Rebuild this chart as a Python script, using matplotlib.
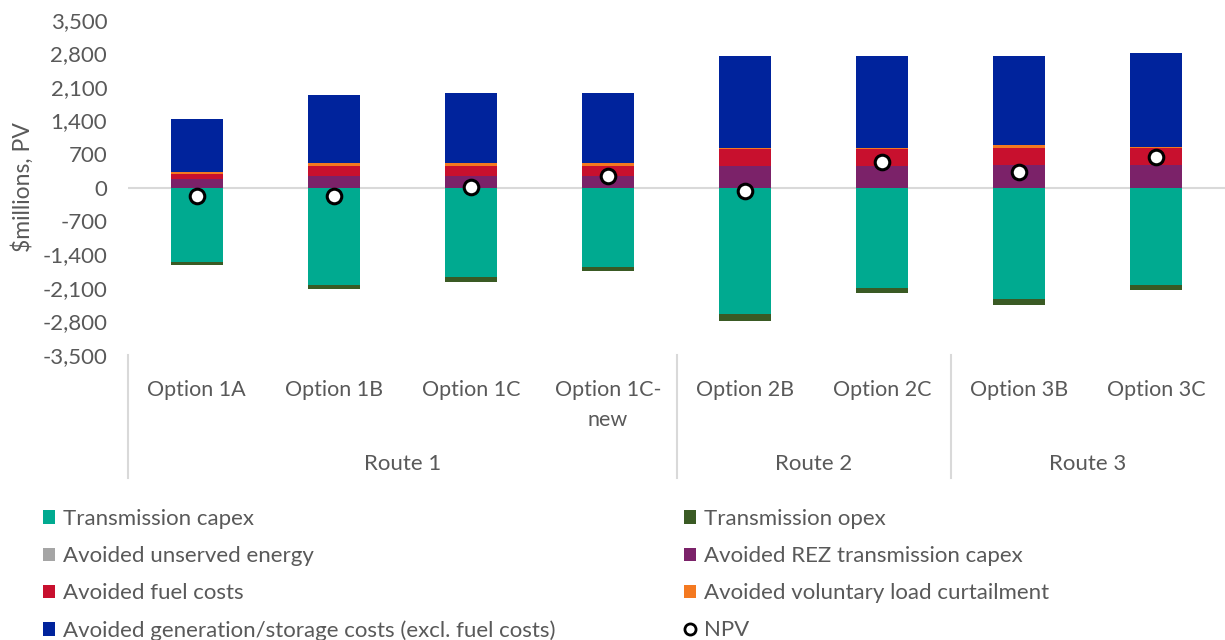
import matplotlib.pyplot as plt
import matplotlib.transforms as mtransforms
from matplotlib.patches import Patch
from matplotlib.lines import Line2D
from matplotlib.ticker import FuncFormatter, MultipleLocator

plt.rcParams['font.family'] = ['Lato', 'DejaVu Sans']

# data, $millions PV
options = ["Option 1A", "Option 1B", "Option 1C", "Option 1C-\nnew",
           "Option 2B", "Option 2C", "Option 3B", "Option 3C"]
routes = ["Route 1", "Route 2", "Route 3"]
route_sizes = [4, 2, 2]

capex = [-1550, -2030, -1875, -1660, -2650, -2090, -2330, -2035]
opex = [-60, -95, -90, -90, -140, -110, -115, -110]
unserved = [0, 0, 0, 0, 0, 0, 0, 0]
rez = [180, 235, 235, 235, 444, 444, 479, 479]
fuel = [105, 215, 215, 215, 360, 360, 347, 347]
voluntary = [35, 55, 55, 55, 20, 20, 55, 30]
generation = [1120, 1437, 1480, 1480, 1930, 1930, 1875, 1950]
npv = [-175, -175, 20, 235, -70, 533, 319, 637]

grey_txt = '#595959'
colors = {
    'capex': '#00AA90',
    'opex': '#3A5A24',
    'unserved': '#A5A5A5',
    'rez': '#7B2269',
    'fuel': '#C8102E',
    'voluntary': '#F47920',
    'generation': '#00239C',
}

fig = plt.figure(figsize=(12.25, 6.4), dpi=100)
ax = fig.add_axes([128 / 1225, 1 - 355 / 640, 1 - 128 / 1225, 335 / 640])

x = list(range(len(options)))
w = 0.38

# negative side
ax.bar(x, capex, w, color=colors['capex'], zorder=2)
ax.bar(x, opex, w, bottom=capex, color=colors['opex'], zorder=2)

# positive side
bottom = [0] * len(x)
for key, vals in [('rez', rez), ('unserved', unserved), ('fuel', fuel),
                  ('voluntary', voluntary), ('generation', generation)]:
    ax.bar(x, vals, w, bottom=bottom, color=colors[key], zorder=2)
    bottom = [b + v for b, v in zip(bottom, vals)]

ax.scatter(x, npv, s=110, facecolor='white', edgecolor='black',
           linewidth=2.2, zorder=4)

ax.axhline(0, color='#D9D9D9', linewidth=1.5, zorder=1)

ax.set_xlim(-0.5, len(options) - 0.5)
ax.set_ylim(-3500, 3500)
ax.yaxis.set_major_locator(MultipleLocator(700))
ax.yaxis.set_major_formatter(FuncFormatter(lambda v, p: '{:,.0f}'.format(v)))
for s in ax.spines.values():
    s.set_visible(False)
ax.tick_params(axis='y', length=0, labelsize=16, colors=grey_txt, pad=15)
ax.tick_params(axis='x', length=0, labelsize=15.5, colors=grey_txt, pad=18)
ax.set_xticks(x)
ax.set_xticklabels(options, linespacing=1.6)
ax.set_ylabel('$millions, PV', fontsize=16.5, color=grey_txt)
ax.yaxis.set_label_coords(-0.086, 0.5)

# multi-level category axis
trans = mtransforms.blended_transform_factory(ax.transData, ax.transAxes)
edges = [-0.5]
for n in route_sizes:
    edges.append(edges[-1] + n)
for e in edges[:-1]:
    ax.plot([e, e], [0, -0.367], transform=trans, color='#D9D9D9',
            linewidth=1.5, clip_on=False)
for i, r in enumerate(routes):
    ax.text((edges[i] + edges[i + 1]) / 2, -0.325, r, transform=trans,
            ha='center', va='center', fontsize=16, color=grey_txt)

# legend, two columns
def sq(c):
    return Patch(facecolor=c, edgecolor='none')

left_items = [(sq(colors['capex']), 'Transmission capex'),
              (sq(colors['unserved']), 'Avoided unserved energy'),
              (sq(colors['fuel']), 'Avoided fuel costs'),
              (sq(colors['generation']),
               'Avoided generation/storage costs (excl. fuel costs)')]
right_items = [(sq(colors['opex']), 'Transmission opex'),
               (sq(colors['rez']), 'Avoided REZ transmission capex'),
               (sq(colors['voluntary']), 'Avoided voluntary load curtailment'),
               (Line2D([], [], marker='o', linestyle='none',
                       markerfacecolor='white', markeredgecolor='black',
                       markeredgewidth=2, markersize=8), 'NPV')]

for items, xpos in [(left_items, 43 / 1225), (right_items, 684 / 1225)]:
    leg = fig.legend([h for h, _ in items], [t for _, t in items],
                     loc='upper left', bbox_to_anchor=(xpos, 1 - 509 / 640),
                     frameon=False, fontsize=16, handlelength=0.55,
                     handleheight=0.55, handletextpad=0.36, labelspacing=0.77,
                     borderaxespad=0, borderpad=0)
    for t in leg.get_texts():
        t.set_color(grey_txt)

fig.savefig('out.png', dpi=100)
